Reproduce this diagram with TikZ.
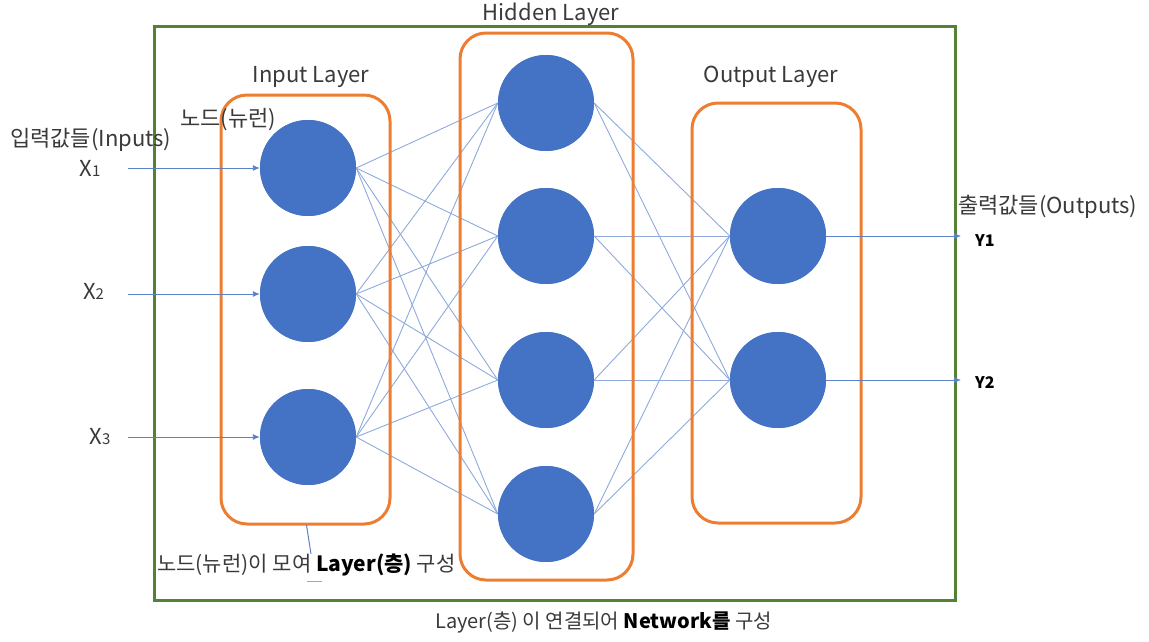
\documentclass[tikz,border=0pt]{standalone}
\usepackage{fontspec}
\setmainfont{Noto Sans CJK KR}
\usetikzlibrary{arrows.meta}
\definecolor{nodeblue}{HTML}{4472C4}
\definecolor{linkblue}{HTML}{8EA9DB}
\definecolor{arrblue}{HTML}{5B80C8}
\definecolor{boxorange}{HTML}{ED7D31}
\definecolor{netgreen}{HTML}{548235}
\definecolor{txtgray}{HTML}{3A3A3A}
\tikzset{
  neuron/.style={circle, fill=nodeblue, minimum size=96pt, inner sep=0pt},
  link/.style={draw=linkblue, line width=0.9pt},
  inarrow/.style={draw=arrblue, line width=0.9pt, -{Latex[length=7pt,width=6pt]}},
  layerbox/.style={draw=boxorange, line width=3pt, rounded corners=26pt},
  lbl/.style={font=\fontsize{22}{24}\selectfont, text=txtgray, inner sep=0pt},
  blbl/.style={font=\bfseries\fontsize{16}{18}\selectfont, text=black, inner sep=0pt}
}
\newcommand{\xsub}[2]{#1{\fontsize{15}{15}\selectfont #2}}
\begin{document}
\begin{tikzpicture}[x=1pt,y=-1pt]
\useasboundingbox (0,0) rectangle (1149,641);
% neurons
\node[neuron] (i1) at (308,168) {};
\node[neuron] (i2) at (308,294) {};
\node[neuron] (i3) at (308,437) {};
\node[neuron] (h1) at (546,103) {};
\node[neuron] (h2) at (546,236) {};
\node[neuron] (h3) at (546,380) {};
\node[neuron] (h4) at (546,514) {};
\node[neuron] (o1) at (778,236) {};
\node[neuron] (o2) at (778,380) {};
% links
\foreach \a in {i1,i2,i3}{\foreach \b in {h1,h2,h3,h4}{\draw[link] (\a.east) -- (\b.west);}}
\foreach \a in {h1,h2,h3,h4}{\foreach \b in {o1,o2}{\draw[link] (\a.east) -- (\b.west);}}
% boxes
\node[layerbox, minimum width=169pt, minimum height=429pt] (inbox) at (305.5,309.5) {};
\node[layerbox, minimum width=173pt, minimum height=547pt] (hidbox) at (546.5,306.5) {};
\node[layerbox, minimum width=169pt, minimum height=420pt] (outbox) at (776.5,313) {};
\node[draw=netgreen, line width=3pt, minimum width=801pt, minimum height=574pt, inner sep=0pt] (net) at (554.5,313) {};
% redraw neurons on top
\foreach \n/\x/\y in {i1/308/168,i2/308/294,i3/308/437,h1/546/103,h2/546/236,h3/546/380,h4/546/514,o1/778/236,o2/778/380}{\fill[nodeblue] (\x,\y) circle (48pt);}
% layer titles
\node[lbl] (tin) at (311,77) {Input Layer};
\node[lbl] (thid) at (551,14) {Hidden Layer};
\node[lbl] (tout) at (771,77) {Output Layer};
% input labels and arrows
\node[lbl, anchor=west] (nodelbl) at (180,120) {노드(뉴런)};
\node[lbl, anchor=west] (inlbl) at (10,140) {입력값들(Inputs)};
\node[lbl] (x1) at (90,168) {\xsub{X}{1}};
\node[lbl] (x2) at (93.5,291) {\xsub{X}{2}};
\node[lbl] (x3) at (100,437) {\xsub{X}{3}};
\coordinate (s1) at (128,168);
\coordinate (s2) at (128,294);
\coordinate (s3) at (128,437);
\draw[inarrow] (s1) -- (i1.west);
\draw[inarrow] (s2) -- (i2.west);
\draw[inarrow] (s3) -- (i3.west);
% output labels and arrows
\coordinate (e1) at (961,236);
\coordinate (e2) at (961,380);
\draw[inarrow] (o1.east) -- (e1);
\draw[inarrow] (o2.east) -- (e2);
\node[blbl, anchor=west] (y1) at (975,241) {Y1};
\node[blbl, anchor=west] (y2) at (975,383) {Y2};
\node[lbl, anchor=west] (outlbl) at (958,207) {출력값들(Outputs)};
% bottom annotations
\node[lbl, font=\fontsize{21}{23}\selectfont, anchor=west] (botlbl) at (157,565) {노드(뉴런)이 모여 {\bfseries\color{black}Layer(층)} 구성};
\coordinate (c1) at (306.5,525);
\coordinate (c2) at (311,554);
\draw[draw=arrblue, line width=1pt] (c1) -- (c2);
\coordinate (u1) at (307,581);
\coordinate (u2) at (322,581);
\draw[draw=linkblue, line width=1pt] (u1) -- (u2);
\node[lbl, font=\fontsize{20}{22}\selectfont, anchor=west] (netlbl) at (435,622) {Layer(층) 이 연결되어 {\bfseries\color{black}Network를} 구성};
\end{tikzpicture}
\end{document}
